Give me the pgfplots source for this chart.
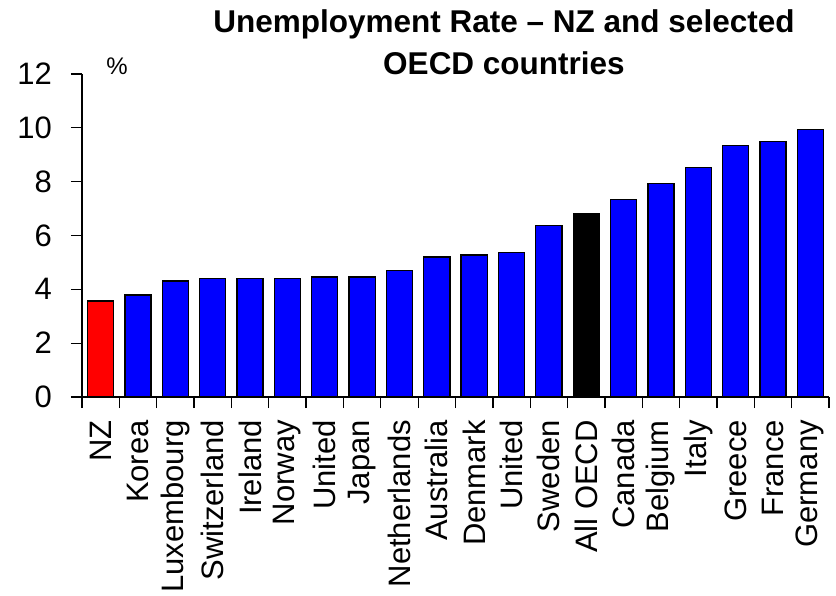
\documentclass[border=0pt]{standalone}
\usepackage{fontspec}
\setmainfont{Liberation Sans}
\usepackage{pgfplots}
\pgfplotsset{compat=1.18}
\begin{document}
\begin{tikzpicture}
\path[use as bounding box] (0,0) rectangle (836pt,595pt);
\begin{axis}[
  at={(82pt,198pt)}, anchor=south west,
  scale only axis, width=747pt, height=323pt,
  xmin=-0.5, xmax=19.5, ymin=0, ymax=12,
  ytick={0,2,...,12},
  xtick={-0.5,0.5,...,19.5},
  x tick label as interval,
  xticklabels={NZ,Korea,Luxembourg,Switzerland,Ireland,Norway,United,Japan,Netherlands,Australia,Denmark,United,Sweden,All OECD,Canada,Belgium,Italy,Greece,France,Germany},
  axis x line=bottom, axis y line=left,
  axis line style={-, line width=1.3pt},
  tick style={line width=1.3pt, black},
  tick align=outside, major tick length=11pt,
  /pgf/number format/assume math mode=true,
  ticklabel style={font=\fontsize{31}{31}\selectfont},
  xticklabel style={rotate=90, anchor=east, inner xsep=12pt, inner ysep=2pt},
  yticklabel style={inner sep=6pt, xshift=-13pt},
  clip=false,
  ybar, bar width=0.7,
  every axis plot/.append style={draw=black, line width=1.3pt, bar shift=0pt},
]
\addplot[fill={rgb,255:red,255;green,0;blue,0}] coordinates {(0,3.57)};
\addplot[fill={rgb,255:red,0;green,0;blue,255}] coordinates {
 (1,3.79)(2,4.31)(3,4.39)(4,4.39)(5,4.39)(6,4.46)(7,4.46)(8,4.70)(9,5.20)
 (10,5.28)(11,5.37)(12,6.36)(14,7.33)(15,7.93)(16,8.53)(17,9.34)(18,9.49)(19,9.94)};
\addplot[fill=black] coordinates {(13,6.81)};
\node[font=\fontsize{24}{24}\selectfont] at (axis cs:0.44,12.3) {\%};
\end{axis}
\node[anchor=base, inner sep=0pt, font=\fontsize{31.5}{36}\selectfont\bfseries] at (504pt,562pt)
  {Unemployment Rate -- NZ and selected};
\node[anchor=base, inner sep=0pt, font=\fontsize{31.5}{36}\selectfont\bfseries] at (504pt,520pt)
  {OECD countries};
\end{tikzpicture}
\end{document}
